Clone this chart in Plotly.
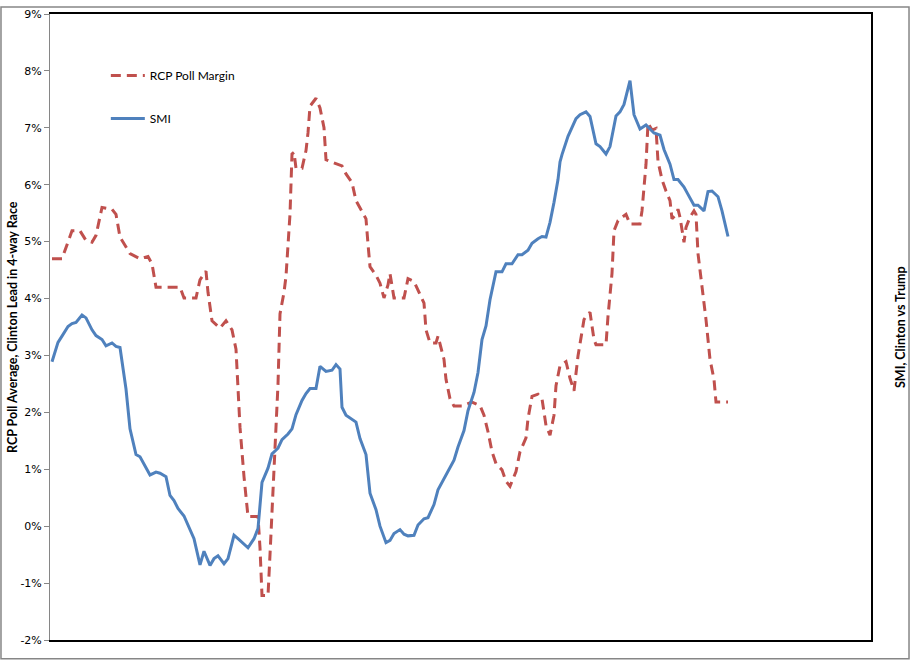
import plotly.graph_objects as go

# RCP Poll Margin (Clinton lead, %) by observation index
rcp_days = [0, 5, 10, 14, 17, 20, 22, 25, 30, 32, 34, 37, 39, 44, 48, 50, 52, 64, 66, 72,
            74, 77, 78, 80, 84, 87, 90, 92, 93, 94, 96, 98, 103, 104, 105, 108, 109, 111, 113, 114,
            116, 117, 119, 120, 121, 122, 125, 127, 128, 129, 132, 134, 136, 137, 141, 145, 147, 150, 152, 155,
            157, 158, 159, 162, 164, 166, 168, 169, 170, 171, 176, 178, 181, 183, 186, 187, 189, 192, 193, 196,
            197, 199, 201, 205, 210, 214, 216, 218, 220, 222, 225, 227, 229, 232, 234, 237, 238, 240, 243, 245,
            247, 249, 251, 252, 254, 257, 259, 261, 263, 266, 267, 269, 271, 272, 277, 278, 280, 281, 283, 287,
            289, 294, 295, 297, 298, 300, 302, 303, 305, 307, 309, 310, 312, 313, 314, 316, 317, 319, 321, 322,
            323, 325, 327, 329, 331, 332, 338]
rcp_vals = [4.70, 4.70, 5.19, 5.19, 5.02, 4.99, 5.11, 5.60, 5.57, 5.48, 5.08, 4.90, 4.79, 4.70, 4.74, 4.61, 4.20, 4.20, 4.01, 4.01,
            4.33, 4.48, 4.11, 3.61, 3.48, 3.61, 3.45, 3.11, 2.49, 1.74, 0.87, 0.17, 0.17, -0.38, -1.22, -1.22, -0.50, 0.93, 2.49, 3.73,
            4.11, 4.39, 5.48, 6.54, 6.57, 6.29, 6.29, 6.60, 6.91, 7.38, 7.52, 7.35, 7.00, 6.44, 6.38, 6.33, 6.19, 6.04, 5.72, 5.54,
            5.40, 4.96, 4.56, 4.41, 4.27, 4.01, 4.24, 4.44, 4.24, 4.01, 4.01, 4.35, 4.30, 4.15, 3.92, 3.45, 3.22, 3.22, 3.34, 2.93,
            2.58, 2.24, 2.11, 2.11, 2.18, 2.12, 1.95, 1.66, 1.31, 1.10, 0.99, 0.79, 0.70, 0.96, 1.31, 1.55, 1.89, 2.28, 2.32, 2.24,
            1.77, 1.60, 1.95, 2.47, 2.82, 2.89, 2.60, 2.38, 2.99, 3.63, 3.69, 3.76, 3.28, 3.19, 3.19, 3.69, 4.44, 5.19, 5.37, 5.48,
            5.31, 5.31, 5.54, 6.36, 7.08, 6.96, 6.99, 6.41, 6.09, 5.89, 5.72, 5.40, 5.48, 5.57, 5.43, 4.99, 5.25, 5.43, 5.54, 5.48,
            4.79, 4.21, 3.63, 2.93, 2.58, 2.18, 2.18]

# SMI (Clinton vs Trump) by observation index
smi_days = [0, 3, 5, 8, 10, 12, 15, 17, 20, 22, 25, 27, 30, 32, 34, 37, 39, 42, 44, 47,
            49, 52, 54, 57, 59, 61, 63, 66, 69, 71, 74, 76, 79, 81, 83, 86, 88, 91, 93, 96,
            98, 101, 103, 105, 108, 110, 113, 115, 118, 120, 122, 125, 127, 129, 132, 134, 137, 140, 142, 144,
            145, 147, 152, 154, 157, 159, 162, 164, 167, 169, 171, 174, 176, 178, 181, 183, 186, 188, 191, 193,
            196, 198, 201, 203, 206, 208, 211, 213, 215, 217, 219, 222, 225, 227, 230, 233, 235, 238, 240, 243,
            245, 247, 249, 251, 253, 254, 255, 258, 262, 264, 267, 269, 272, 274, 277, 279, 282, 284, 286, 289,
            291, 294, 297, 299, 301, 304, 306, 309, 311, 313, 316, 318, 321, 323, 326, 328, 330, 333, 335, 338]
smi_vals = [2.89, 3.23, 3.34, 3.51, 3.56, 3.58, 3.71, 3.66, 3.45, 3.35, 3.28, 3.17, 3.22, 3.16, 3.14, 2.41, 1.71, 1.26, 1.22, 1.03,
            0.90, 0.95, 0.93, 0.87, 0.54, 0.45, 0.31, 0.18, -0.06, -0.22, -0.68, -0.44, -0.69, -0.57, -0.52, -0.66, -0.57, -0.16, -0.22, -0.31,
            -0.38, -0.22, -0.04, 0.77, 1.02, 1.27, 1.37, 1.52, 1.62, 1.71, 1.96, 2.21, 2.33, 2.42, 2.42, 2.81, 2.72, 2.74, 2.84, 2.76,
            2.09, 1.95, 1.83, 1.54, 1.26, 0.58, 0.29, 0.00, -0.29, -0.25, -0.13, -0.06, -0.14, -0.17, -0.16, 0.02, 0.13, 0.15, 0.38, 0.64,
            0.84, 0.96, 1.16, 1.39, 1.68, 2.03, 2.35, 2.70, 3.28, 3.52, 3.98, 4.47, 4.47, 4.61, 4.61, 4.77, 4.77, 4.85, 4.97, 5.05,
            5.09, 5.08, 5.34, 5.69, 6.09, 6.40, 6.53, 6.85, 7.16, 7.23, 7.28, 7.20, 6.72, 6.67, 6.54, 6.67, 7.21, 7.28, 7.41, 7.83,
            7.23, 6.98, 7.05, 6.98, 6.91, 6.87, 6.62, 6.36, 6.09, 6.09, 5.96, 5.83, 5.64, 5.64, 5.54, 5.88, 5.89, 5.79, 5.54, 5.09]

y_ticks = [-2, -1, 0, 1, 2, 3, 4, 5, 6, 7, 8, 9]
y_tick_labels = [f"{v}%" for v in y_ticks]

fig = go.Figure()
fig.add_trace(go.Scatter(x=rcp_days, y=rcp_vals, mode="lines", name="RCP Poll Margin",
                         line=dict(color="#C0504D", width=3, dash="10px,6px"), legendgroup="a"))
fig.add_trace(go.Scatter(x=smi_days, y=smi_vals, mode="lines", name="SMI",
                         line=dict(color="#4F81BD", width=3), legendgroup="b"))
# invisible helper so the right-hand frame axis is drawn
fig.add_trace(go.Scatter(x=[None], y=[None], yaxis="y2", showlegend=False, hoverinfo="skip"))

fig.update_layout(
    width=911, height=661,
    margin=dict(l=50, r=40, t=8, b=21),
    paper_bgcolor="white", plot_bgcolor="white",
    font=dict(family="DejaVu Sans", size=11, color="black"),
    showlegend=True,
    legend=dict(x=0.068, y=0.925, xanchor="left", yanchor="top", itemwidth=34,
                bgcolor="rgba(0,0,0,0)", tracegroupgap=24,
                font=dict(family="Lato", size=12, color="black")),
    xaxis=dict(range=[-1, 409.5], showgrid=False, zeroline=False, showticklabels=False, ticks="",
               showline=True, linecolor="black", linewidth=2, mirror=True),
    yaxis=dict(range=[-2, 9], tickvals=y_ticks, ticktext=y_tick_labels, showgrid=False, zeroline=False,
               showline=True, linecolor="#868686", linewidth=1, ticks="outside", ticklen=5,
               tickcolor="#868686", tickfont=dict(family="DejaVu Sans", size=11)),
    yaxis2=dict(range=[-2, 9], overlaying="y", side="right", showgrid=False, zeroline=False,
                showticklabels=False, ticks="", showline=True, linecolor="black", linewidth=2),
)

fig.add_annotation(text="<b>RCP Poll Average, Clinton Lead in 4-way Race</b>", textangle=-90,
                   xref="paper", yref="paper", x=-0.0463, y=0.5, xanchor="center", yanchor="middle",
                   showarrow=False, font=dict(family="Lato", size=12.5, color="black"))
fig.add_annotation(text="<b>SMI, Clinton vs Trump</b>", textangle=-90,
                   xref="paper", yref="paper", x=1.0353, y=0.5, xanchor="center", yanchor="middle",
                   showarrow=False, font=dict(family="Lato", size=12.5, color="black"))
fig.add_shape(type="rect", xref="paper", yref="paper", x0=-0.0597, x1=1.0463, y0=-0.0301, y1=1.0111,
              line=dict(color="#868686", width=1.5), layer="below")

fig.write_html("out.html", config={"displayModeBar": False},
               post_script="document.body.style.margin='0';")
